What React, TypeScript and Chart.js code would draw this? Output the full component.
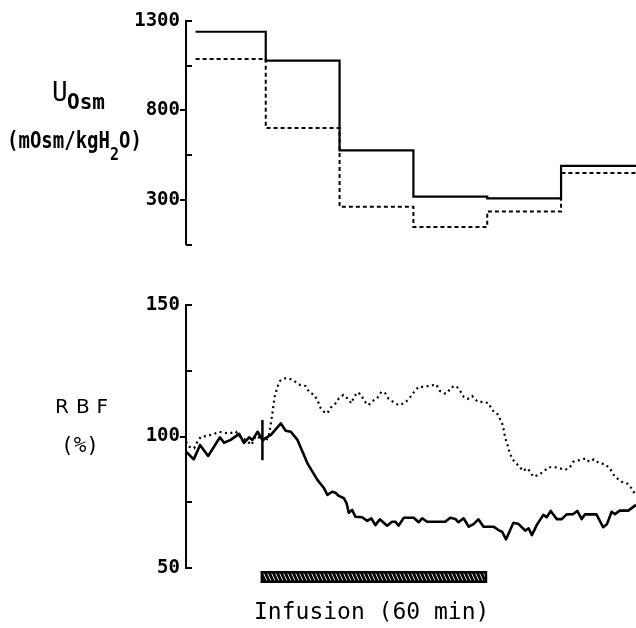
import React, { useEffect, useRef } from "react";
import { Chart, registerables } from "chart.js";

Chart.register(...registerables);

// ---------- data ----------
// Urine osmolality, 20-min collection periods (minutes relative to infusion start)
const PERIOD_STARTS = [-19, 0, 20, 40, 60, 80];
const PERIOD_END = 102;
const UOSM_SOLID = [1240, 1078, 577, 318, 308, 490];
const UOSM_DASHED = [1088, 702, 262, 148, 235, 450];

const UOSM_MIN = 50;
const UOSM_MAX = 1300;
const UOSM_STEP = 250;
const UOSM_TICK_LABELS = [300, 800, 1300];
const UOSM_OUTER_TICKS = [300, 800];
const UOSM_INNER_TICKS = [50, 550, 1050, 1300];

const RBF_MIN = 50;
const RBF_MAX = 150;
const RBF_STEP = 25;
const RBF_TICK_LABELS = [50, 100, 150];
const RBF_OUTER_TICKS = [100];
const RBF_INNER_TICKS = [50, 75, 125, 150];

const X_MIN = -21.6;
const X_MAX = 100.3;

// RBF (%) – solid trace
const RBF_SOLID_T = [
  -21.6, -19.5, -17.8, -15.6, -12.4, -11.3, -9.5, -7.2, -5.9, -4.5, -3.6, -2.2, -0.9,
  1.4, 4.1, 5.4, 6.8, 8.6, 11.3, 14.0, 15.8, 16.7, 18.0, 18.9, 19.8, 21.2, 21.9, 22.5,
  23.4, 24.3, 26.1, 27.5, 28.6, 29.7, 30.9, 32.9, 34.2, 35.1, 36.0, 37.4, 40.1, 41.4,
  42.4, 43.7, 48.6, 50.0, 51.4, 52.2, 53.6, 55.0, 56.3, 57.6, 59.0, 61.7, 63.1, 64.0,
  65.1, 67.1, 68.5, 70.3, 71.2, 72.1, 73.4, 75.2, 76.1, 77.2, 78.8, 80.2, 81.5, 83.3,
  84.4, 85.6, 86.5, 89.6, 91.4, 92.4, 93.7, 94.6, 95.9, 98.2, 100.3,
];
const RBF_SOLID_V = [
  94.2, 91.3, 96.8, 92.6, 99.7, 97.6, 98.7, 101, 97.6, 99.7, 98.7, 101.8, 98.7,
  100.6, 105, 102.2, 101.8, 98.7, 89.8, 83.5, 80.3, 77.8, 79, 78.6, 77.4, 76.5, 74.6, 71,
  72.1, 69.5, 69.3, 67.9, 68.9, 66.3, 68.5, 66.1, 67.6, 67.6, 66.1, 69.1, 69.1, 67.4,
  68.9, 67.6, 67.6, 69.1, 68.6, 67.4, 68.9, 65.7, 66.7, 68.5, 65.7, 65.7, 64.4, 63.8,
  60.9, 67.2, 66.7, 64.2, 65.1, 62.5, 66.3, 70.2, 69.3, 71.7, 68.6, 68.6, 70.4, 70.5,
  71.7, 68.6, 70.4, 70.4, 65.5, 66.6, 71.4, 70.5, 71.8, 71.8, 74,
];

// RBF (%) – dotted trace
const RBF_DOTTED_T = [
  -21.6, -20.7, -19.4, -18.5, -17.6, -15.8, -14.0, -12.6, -11.3, -9.9, -8.1, -6.8, -5.4,
  -3.9, -2.7, -1.4, 0, 0.9, 1.8, 2.4, 3.2, 3.9, 4.9, 6.3, 7.6, 9.3, 10.8, 11.7, 13.1,
  14.0, 14.9, 15.8, 16.7, 17.6, 18.9, 19.8, 21.0, 22.1, 23.2, 23.9, 24.9, 25.9, 26.6,
  27.8, 29.1, 30.2, 31.3, 32.4, 33.3, 34.7, 36.0, 37.4, 38.7, 40.1, 41.4, 42.8, 44.6,
  46.2, 47.1, 48.4, 49.1, 50.2, 51.6, 52.7, 53.6, 54.7, 55.9, 57.4, 59.0, 60.4, 61.3,
  62.6, 63.5, 64.2, 64.9, 65.5, 66.0, 66.7, 67.6, 68.7, 69.6, 70.9, 71.6, 72.5, 73.9,
  75.2, 76.6, 78.4, 79.7, 81.1, 82.4, 83.3, 84.2, 85.3, 86.8, 87.6, 88.9, 90.4, 91.9,
  93.2, 94.6, 96.4, 97.7, 99.1, 100.3,
];
const RBF_DOTTED_V = [
  98, 96.1, 95.5, 98, 99.9, 100.2, 101, 101.8, 101.4, 101.2, 101.8, 99.7, 98.7,
  96.8, 100.2, 99.3, 98, 100.6, 108.8, 115.1, 118.9, 121.2, 122.1, 122.1, 121.2, 119.6, 119.2, 117, 115.8,
  113.9, 110.7, 109.4, 108.8, 111, 112.6, 114.5, 115.8, 114.5, 112.6, 115.1, 116.8, 115.8, 113.6,
  111.9, 113.6, 114.5, 117, 116.4, 114.3, 113, 111.9, 112.6, 114.1, 116.8, 118.9, 118.9, 119.3,
  119.8, 117.4, 116.4, 116.4, 118.7, 119.2, 117.3, 115.1, 114.3, 115.4, 113.2, 113.2, 112.6, 110,
  109, 106.5, 104.4, 99.3, 96.8, 94.2, 91.7, 90, 88.8, 86.9, 87.9, 86.6, 84.7, 85.4,
  86.6, 88.3, 88.3, 87.9, 87.3, 88.3, 90.4, 90.8, 91.1, 91.7, 90.4, 91.3, 89.8, 89.5,
  87.9, 84.7, 82.8, 82.4, 80.3, 77.4,
];

// infusion start marker and infusion period (minutes)
const MARKER_T = -0.9;
const MARKER_V = [91, 106.3];
const INFUSION = [-1.4, 60];

// ---------- helpers ----------
const MONO = "'DejaVu Sans Mono', monospace";

function stepPoints(starts: number[], vals: number[], end: number) {
  const pts = starts.map((t, i) => ({ x: t, y: vals[i] }));
  pts.push({ x: end, y: vals[vals.length - 1] });
  return pts;
}

function zipPoints(ts: number[], vs: number[]) {
  return ts.map((t, i) => ({ x: t, y: vs[i] }));
}

const axisDecor = {
  id: "axisDecor",
  afterDraw(chart: any, _args: any, opts: any) {
    const { ctx, chartArea, scales } = chart;
    const y = scales.y;
    const x0 = chartArea.left;
    ctx.save();
    ctx.strokeStyle = "#000";
    ctx.lineWidth = 2;
    ctx.lineCap = "butt";
    ctx.beginPath();
    (opts.inner || []).forEach((v: number) => {
      const py = Math.round(y.getPixelForValue(v));
      ctx.moveTo(x0, py);
      ctx.lineTo(x0 + 6, py);
    });
    (opts.outer || []).forEach((v: number) => {
      const py = Math.round(y.getPixelForValue(v));
      ctx.moveTo(x0 - 6, py);
      ctx.lineTo(x0, py);
    });
    ctx.stroke();

    if (opts.bar) {
      const xs = scales.x;
      const bx1 = xs.getPixelForValue(opts.bar[0]);
      const bx2 = xs.getPixelForValue(opts.bar[1]);
      const by = chartArea.bottom + 3;
      const bh = 12;
      ctx.fillStyle = "#000";
      ctx.fillRect(bx1, by, bx2 - bx1, bh);
      ctx.save();
      ctx.beginPath();
      ctx.rect(bx1 + 2.5, by + 2.5, bx2 - bx1 - 5, bh - 5);
      ctx.clip();
      ctx.strokeStyle = "#fff";
      ctx.lineWidth = 0.9;
      ctx.beginPath();
      for (let x = bx1 - 10; x < bx2 + 10; x += 4) {
        ctx.moveTo(x, by);
        ctx.lineTo(x + bh * 0.45, by + bh);
      }
      ctx.stroke();
      ctx.restore();
    }
    ctx.restore();
  },
};

function yScale(min: number, max: number, step: number, labels: number[], fit: number) {
  return {
    type: "linear",
    min,
    max,
    afterFit(s: any) {
      s.width = fit;
    },
    ticks: {
      stepSize: step,
      autoSkip: false,
      padding: 6,
      color: "#000",
      font: { family: MONO, size: 19, weight: "bold" },
      callback: (v: any) => (labels.includes(Number(v)) ? String(v) : ""),
    },
    grid: { drawOnChartArea: false, drawTicks: false, color: "rgba(0,0,0,0)" },
    border: { display: true, color: "#000", width: 2 },
  };
}

const xScale = {
  type: "linear",
  min: X_MIN,
  max: X_MAX,
  display: false,
};

export default function App() {
  const topRef = useRef<HTMLCanvasElement | null>(null);
  const botRef = useRef<HTMLCanvasElement | null>(null);

  useEffect(() => {
    const top = new Chart(topRef.current as HTMLCanvasElement, {
      type: "line",
      data: {
        datasets: [
          {
            data: stepPoints(PERIOD_STARTS, UOSM_DASHED, PERIOD_END),
            stepped: "before",
            borderColor: "#000",
            borderWidth: 2,
            borderDash: [4, 3],
            pointRadius: 0,
            fill: false,
          },
          {
            data: stepPoints(PERIOD_STARTS, UOSM_SOLID, PERIOD_END),
            stepped: "before",
            borderColor: "#000",
            borderWidth: 2.2,
            pointRadius: 0,
            fill: false,
          },
        ],
      } as any,
      options: {
        animation: false,
        responsive: false,
        maintainAspectRatio: false,
        devicePixelRatio: 1,
        layout: { padding: { left: 0, right: 0, top: 21, bottom: 11 } },
        scales: {
          x: xScale,
          y: yScale(UOSM_MIN, UOSM_MAX, UOSM_STEP, UOSM_TICK_LABELS, 186),
        } as any,
        plugins: {
          legend: { display: false },
          tooltip: { enabled: false },
          axisDecor: { inner: UOSM_INNER_TICKS, outer: UOSM_OUTER_TICKS },
        } as any,
      },
      plugins: [axisDecor],
    });

    const bot = new Chart(botRef.current as HTMLCanvasElement, {
      type: "line",
      data: {
        datasets: [
          {
            data: zipPoints(RBF_DOTTED_T, RBF_DOTTED_V),
            borderColor: "#000",
            borderWidth: 2.2,
            borderDash: [2, 3.5],
            borderCapStyle: "butt",
            pointRadius: 0,
            fill: false,
            tension: 0,
          },
          {
            data: zipPoints(RBF_SOLID_T, RBF_SOLID_V),
            borderColor: "#000",
            borderWidth: 2.6,
            borderJoinStyle: "round",
            pointRadius: 0,
            fill: false,
            tension: 0,
          },
          {
            data: [
              { x: MARKER_T, y: MARKER_V[0] },
              { x: MARKER_T, y: MARKER_V[1] },
            ],
            borderColor: "#000",
            borderWidth: 2.5,
            pointRadius: 0,
            fill: false,
          },
        ],
      } as any,
      options: {
        animation: false,
        responsive: false,
        maintainAspectRatio: false,
        devicePixelRatio: 1,
        layout: { padding: { left: 0, right: 0, top: 35, bottom: 60 } },
        scales: {
          x: xScale,
          y: yScale(RBF_MIN, RBF_MAX, RBF_STEP, RBF_TICK_LABELS, 186),
        } as any,
        plugins: {
          legend: { display: false },
          tooltip: { enabled: false },
          axisDecor: { inner: RBF_INNER_TICKS, outer: RBF_OUTER_TICKS, bar: INFUSION },
        } as any,
      },
      plugins: [axisDecor],
    });

    return () => {
      top.destroy();
      bot.destroy();
    };
  }, []);

  const abs = (left: number, top: number, extra: any = {}) => ({
    position: "absolute" as const,
    left,
    top,
    lineHeight: 1,
    whiteSpace: "nowrap" as const,
    color: "#000",
    fontFamily: MONO,
    ...extra,
  });

  return (
    <div
      style={{
        position: "absolute",
        left: 0,
        top: 0,
        width: 636,
        height: 628,
        background: "#fff",
        overflow: "hidden",
      }}
    >
      <canvas
        ref={topRef}
        width={636}
        height={262}
        style={{ position: "absolute", left: 0, top: 0, width: 636, height: 262 }}
      />
      <canvas
        ref={botRef}
        width={636}
        height={358}
        style={{ position: "absolute", left: 0, top: 270, width: 636, height: 358 }}
      />

      <div style={abs(52, 79, { fontSize: 26 })}>U</div>
      <div style={abs(67, 92, { fontSize: 21, fontWeight: "bold" })}>Osm</div>
      <div
        style={abs(7, 129, {
          fontSize: 19,
          fontWeight: "bold",
          transform: "scaleY(1.2)",
          transformOrigin: "top left",
        })}
      >
        (mOsm/kgH
        <span style={{ fontSize: 15, position: "relative", top: 10 }}>2</span>
        O)
      </div>

      <div
        style={abs(55, 396, {
          fontSize: 20,
          fontFamily: "'DejaVu Sans', sans-serif",
          letterSpacing: 7,
        })}
      >
        RBF
      </div>
      <div style={abs(61, 435, { fontSize: 21 })}>(%)</div>

      <div style={abs(254, 600, { fontSize: 23 })}>Infusion (60 min)</div>
    </div>
  );
}
